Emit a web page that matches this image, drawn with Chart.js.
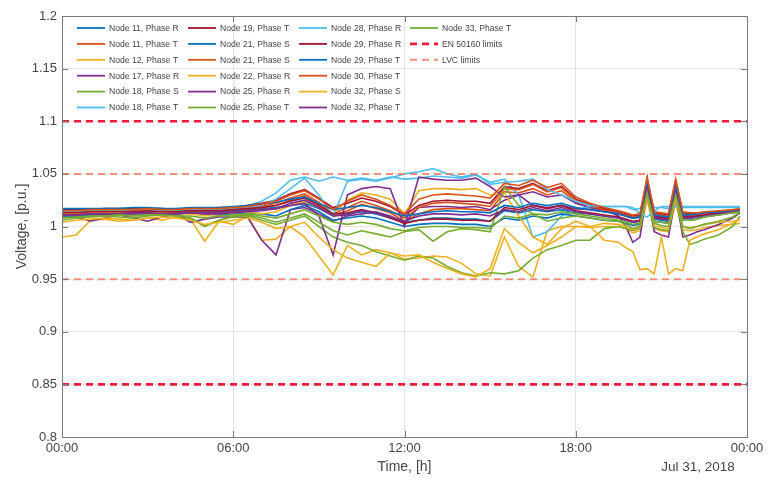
<!DOCTYPE html>
<html>
<head>
<meta charset="utf-8">
<script src="https://cdn.jsdelivr.net/npm/chart.js@4.4.0/dist/chart.umd.min.js"></script>
<style>
  body { margin: 0; background: #fff; }
</style>
</head>
<body>
<canvas id="voltChart" width="768" height="482"></canvas>
<script>
// --- Data (hours of Jul 31, 2018) ---
const times = [
  0, 0.5, 1, 1.5, 2, 2.5, 3, 3.5, 4, 4.5,
  5, 5.5, 6, 6.5, 7, 7.5, 8, 8.5, 9, 9.5,
  10, 10.5, 11, 11.5, 12, 12.5, 13, 13.5, 14, 14.5,
  15, 15.5, 16, 16.5, 17, 17.5, 18, 18.5, 19, 19.5,
  19.75, 20, 20.25, 20.5, 20.75, 21, 21.25, 21.5, 21.75, 22,
  22.25, 22.5, 23, 23.5, 23.75
];

const node11R = [
  1.012, 1.012, 1.013, 1.013, 1.013, 1.013, 1.014, 1.013, 1.013, 1.014,
  1.014, 1.014, 1.015, 1.016, 1.017, 1.018, 1.020, 1.022, 1.017, 1.010,
  1.012, 1.014, 1.012, 1.008, 1.004, 1.006, 1.008, 1.008, 1.007, 1.007,
  1.005, 1.015, 1.013, 1.016, 1.014, 1.016, 1.013, 1.012, 1.010, 1.008,
  1.006, 1.004, 1.005, 1.034, 1.007, 1.006, 1.005, 1.032, 1.008, 1.008,
  1.009, 1.010, 1.012, 1.014, 1.015
];
const node11T = [
  1.013, 1.013, 1.014, 1.014, 1.014, 1.014, 1.015, 1.014, 1.014, 1.015,
  1.015, 1.015, 1.016, 1.017, 1.018, 1.020, 1.025, 1.029, 1.021, 1.010,
  1.015, 1.021, 1.017, 1.013, 1.005, 1.012, 1.016, 1.017, 1.017, 1.016,
  1.015, 1.033, 1.032, 1.036, 1.030, 1.034, 1.023, 1.018, 1.015, 1.012,
  1.010, 1.008, 1.009, 1.040, 1.011, 1.010, 1.009, 1.038, 1.011, 1.010,
  1.010, 1.011, 1.012, 1.013, 1.014
];
const node12T = [
  0.990, 0.992, 1.006, 1.007, 1.005, 1.006, 1.008, 1.006, 1.009, 1.007,
  0.986, 1.005, 1.002, 1.010, 0.987, 0.988, 1.000, 0.990, 0.972, 0.954,
  0.982, 0.973, 0.978, 0.975, 0.969, 0.970, 0.972, 0.971, 0.965, 0.955,
  0.953, 0.990, 0.962, 0.952, 0.996, 1.000, 1.000, 0.999, 1.000, 1.000,
  0.998, 0.994, 0.996, 1.025, 0.998, 0.996, 0.995, 1.022, 0.997, 0.996,
  0.997, 0.999, 1.001, 1.002, 1.003
];
const node17R = [
  1.009, 1.009, 1.005, 1.008, 1.011, 1.008, 1.005, 1.009, 1.012, 1.004,
  1.007, 1.009, 1.009, 1.009, 0.987, 0.973, 1.016, 1.018, 1.012, 1.005,
  1.010, 1.012, 1.014, 1.010, 1.004, 1.018, 1.019, 1.019, 1.018, 1.019,
  1.016, 1.025, 1.030, 1.033, 1.028, 1.030, 1.022, 1.018, 1.016, 1.010,
  1.000, 0.985, 0.990, 1.033, 0.995, 0.992, 0.990, 1.030, 0.990, 0.992,
  0.995, 0.997, 1.002, 1.008, 1.013
];
const node18S = [
  1.009, 1.010, 1.010, 1.011, 1.011, 1.010, 1.011, 1.012, 1.011, 1.008,
  1.000, 1.006, 1.009, 1.010, 1.006, 1.002, 1.006, 1.010, 1.000, 0.990,
  0.985, 0.982, 0.976, 0.972, 0.968, 0.972, 0.970, 0.962, 0.956, 0.953,
  0.956, 0.955, 0.958, 0.970, 0.978, 0.982, 0.987, 0.987, 0.998, 1.000,
  0.998, 0.996, 0.998, 1.030, 0.999, 0.997, 0.996, 1.028, 0.995, 0.983,
  0.985, 0.988, 0.992, 1.000, 1.010
];
const node18T = [
  1.016, 1.016, 1.016, 1.017, 1.017, 1.017, 1.017, 1.017, 1.016, 1.017,
  1.017, 1.017, 1.018, 1.020, 1.024, 1.032, 1.044, 1.047, 1.043, 1.047,
  1.044, 1.046, 1.044, 1.047, 1.045, 1.046, 1.048, 1.047, 1.046, 1.049,
  1.042, 1.045, 1.030, 0.990, 0.995, 1.010, 1.016, 1.019, 1.019, 1.019,
  1.019, 1.016, 1.017, 1.030, 1.018, 1.018, 1.017, 1.032, 1.018, 1.018,
  1.018, 1.018, 1.018, 1.018, 1.018
];
const node19T = [
  1.016, 1.016, 1.016, 1.017, 1.017, 1.017, 1.017, 1.017, 1.016, 1.017,
  1.017, 1.018, 1.018, 1.020, 1.022, 1.025, 1.031, 1.035, 1.027, 1.018,
  1.022, 1.027, 1.024, 1.019, 1.011, 1.020, 1.024, 1.025, 1.024, 1.024,
  1.022, 1.038, 1.036, 1.041, 1.034, 1.038, 1.026, 1.021, 1.017, 1.014,
  1.012, 1.010, 1.011, 1.046, 1.013, 1.012, 1.011, 1.044, 1.013, 1.012,
  1.012, 1.013, 1.014, 1.015, 1.016
];
const node21Sa = [
  1.010, 1.010, 1.011, 1.011, 1.012, 1.012, 1.012, 1.012, 1.012, 1.013,
  1.012, 1.011, 1.012, 1.013, 1.012, 1.010, 1.016, 1.020, 1.014, 1.006,
  1.008, 1.010, 1.008, 1.004, 1.000, 1.002, 1.003, 1.003, 1.002, 1.002,
  1.000, 1.008, 1.006, 1.010, 1.008, 1.012, 1.010, 1.008, 1.006, 1.005,
  1.003, 1.001, 1.002, 1.030, 1.005, 1.004, 1.003, 1.028, 1.006, 1.006,
  1.007, 1.009, 1.011, 1.013, 1.014
];
const node21Sb = [
  1.014, 1.014, 1.015, 1.015, 1.015, 1.015, 1.016, 1.015, 1.015, 1.016,
  1.016, 1.016, 1.017, 1.018, 1.019, 1.022, 1.027, 1.031, 1.023, 1.012,
  1.018, 1.024, 1.020, 1.015, 1.008, 1.018, 1.022, 1.023, 1.022, 1.021,
  1.019, 1.036, 1.035, 1.040, 1.033, 1.037, 1.025, 1.020, 1.016, 1.013,
  1.011, 1.009, 1.010, 1.044, 1.012, 1.011, 1.010, 1.042, 1.012, 1.011,
  1.011, 1.012, 1.013, 1.014, 1.015
];
const node22R = [
  1.012, 1.012, 1.013, 1.013, 1.013, 1.012, 1.013, 1.013, 1.012, 1.012,
  1.010, 1.012, 1.013, 1.014, 1.012, 1.014, 1.020, 1.024, 1.018, 1.012,
  1.025, 1.032, 1.030, 1.026, 1.012, 1.034, 1.036, 1.036, 1.035, 1.036,
  1.030, 1.032, 1.010, 0.990, 0.983, 0.998, 1.005, 1.000, 1.003, 1.002,
  1.000, 0.997, 0.999, 1.030, 1.001, 0.999, 0.998, 1.028, 1.000, 0.999,
  1.000, 1.002, 1.004, 1.005, 1.006
];
const node25R = [
  1.011, 1.011, 1.012, 1.012, 1.012, 1.012, 1.013, 1.012, 1.012, 1.013,
  1.012, 1.012, 1.013, 1.014, 1.015, 1.017, 1.020, 1.022, 1.010, 0.973,
  1.030, 1.036, 1.038, 1.036, 1.000, 1.047, 1.045, 1.044, 1.044, 1.046,
  1.038, 1.028, 1.030, 1.020, 1.018, 1.020, 1.017, 1.016, 1.014, 1.012,
  1.010, 1.008, 1.009, 1.038, 1.010, 1.009, 1.008, 1.036, 1.010, 1.009,
  1.010, 1.011, 1.013, 1.014, 1.015
];
const node25T = [
  1.006, 1.008, 1.009, 1.010, 1.009, 1.008, 1.010, 1.011, 1.010, 1.008,
  1.001, 1.006, 1.010, 1.011, 1.008, 1.004, 1.008, 1.012, 1.004, 0.996,
  0.992, 0.996, 0.993, 0.990, 0.995, 0.997, 0.986, 0.995, 0.998, 0.997,
  0.995, 1.038, 1.020, 1.012, 1.005, 1.008, 1.010, 1.008, 1.006, 1.005,
  1.002, 0.998, 1.000, 1.036, 1.003, 1.001, 1.000, 1.032, 1.000, 0.998,
  1.000, 1.002, 1.005, 1.009, 1.014
];
const node28R = [
  1.014, 1.014, 1.015, 1.015, 1.015, 1.016, 1.016, 1.015, 1.015, 1.016,
  1.016, 1.016, 1.017, 1.018, 1.020, 1.026, 1.036, 1.046, 1.030, 1.010,
  1.043, 1.045, 1.043, 1.046, 1.050, 1.052, 1.055, 1.050, 1.047, 1.050,
  1.040, 1.042, 1.043, 1.045, 1.035, 1.030, 1.024, 1.020, 1.019, 1.019,
  1.019, 1.018, 1.012, 1.009, 1.015, 1.019, 1.019, 1.019, 1.019, 1.019,
  1.019, 1.019, 1.019, 1.019, 1.019
];
const node29R = [
  1.013, 1.013, 1.014, 1.014, 1.014, 1.014, 1.015, 1.014, 1.014, 1.015,
  1.015, 1.015, 1.016, 1.017, 1.018, 1.020, 1.024, 1.027, 1.020, 1.012,
  1.013, 1.016, 1.013, 1.008, 1.003, 1.006, 1.007, 1.007, 1.006, 1.006,
  1.005, 1.018, 1.016, 1.020, 1.017, 1.020, 1.015, 1.013, 1.011, 1.009,
  1.007, 1.005, 1.006, 1.038, 1.009, 1.008, 1.007, 1.036, 1.009, 1.009,
  1.010, 1.011, 1.013, 1.014, 1.015
];
const node29T = [
  1.017, 1.017, 1.017, 1.017, 1.017, 1.018, 1.018, 1.017, 1.017, 1.018,
  1.018, 1.018, 1.019, 1.020, 1.021, 1.023, 1.026, 1.028, 1.022, 1.016,
  1.018, 1.020, 1.018, 1.014, 1.010, 1.012, 1.014, 1.015, 1.014, 1.014,
  1.013, 1.020, 1.018, 1.022, 1.020, 1.022, 1.018, 1.016, 1.014, 1.012,
  1.010, 1.008, 1.009, 1.040, 1.011, 1.010, 1.009, 1.038, 1.011, 1.011,
  1.012, 1.013, 1.014, 1.015, 1.016
];
const node30T = [
  1.015, 1.015, 1.016, 1.016, 1.016, 1.016, 1.017, 1.016, 1.016, 1.017,
  1.017, 1.017, 1.018, 1.019, 1.021, 1.024, 1.030, 1.034, 1.026, 1.016,
  1.024, 1.030, 1.026, 1.020, 1.012, 1.026, 1.030, 1.031, 1.030, 1.029,
  1.027, 1.041, 1.039, 1.044, 1.037, 1.041, 1.028, 1.022, 1.018, 1.015,
  1.013, 1.011, 1.012, 1.047, 1.014, 1.013, 1.012, 1.045, 1.014, 1.013,
  1.013, 1.014, 1.015, 1.016, 1.017
];
const node32S = [
  1.004, 1.006, 1.007, 1.008, 1.007, 1.006, 1.008, 1.009, 1.008, 1.006,
  1.002, 1.004, 1.006, 1.008, 1.004, 0.998, 1.000, 1.004, 0.990, 0.978,
  0.970, 0.966, 0.962, 0.975, 0.972, 0.973, 0.966, 0.960, 0.955, 0.952,
  0.960, 0.998, 0.985, 0.975, 0.982, 0.990, 1.000, 1.000, 0.987, 0.985,
  0.980, 0.976, 0.959, 0.960, 0.955, 0.990, 0.955, 0.960, 0.958, 0.987,
  0.990, 0.993, 0.997, 1.003, 1.008
];
const node32T = [
  1.011, 1.011, 1.012, 1.012, 1.012, 1.013, 1.013, 1.012, 1.012, 1.013,
  1.013, 1.013, 1.014, 1.015, 1.016, 1.017, 1.022, 1.025, 1.018, 1.010,
  1.011, 1.015, 1.013, 1.009, 1.005, 1.010, 1.012, 1.012, 1.011, 1.012,
  1.010, 1.016, 1.014, 1.018, 1.015, 1.018, 1.014, 1.012, 1.010, 1.008,
  1.006, 1.004, 1.005, 1.036, 1.008, 1.007, 1.006, 1.034, 1.008, 1.008,
  1.009, 1.010, 1.012, 1.014, 1.015
];
const node33T = [
  1.008, 1.009, 1.010, 1.010, 1.011, 1.010, 1.011, 1.011, 1.010, 1.010,
  1.008, 1.010, 1.011, 1.012, 1.010, 1.008, 1.012, 1.016, 1.010, 1.004,
  1.002, 1.004, 1.002, 0.998, 0.996, 0.999, 1.000, 1.000, 0.999, 0.999,
  0.998, 1.010, 1.008, 1.012, 1.011, 1.014, 1.012, 1.010, 1.008, 1.006,
  1.004, 1.002, 1.003, 1.032, 1.005, 1.004, 1.003, 1.030, 1.006, 1.006,
  1.007, 1.009, 1.011, 1.013, 1.014
];

const seriesNames = [
  "Node 11, Phase R", "Node 11, Phase T", "Node 12, Phase T", "Node 17, Phase R",
  "Node 18, Phase S", "Node 18, Phase T", "Node 19, Phase T", "Node 21, Phase S",
  "Node 21, Phase S", "Node 22, Phase R", "Node 25, Phase R", "Node 25, Phase T",
  "Node 28, Phase R", "Node 29, Phase R", "Node 29, Phase T", "Node 30, Phase T",
  "Node 32, Phase S", "Node 32, Phase T", "Node 33, Phase T"
];
const seriesValues = [
  node11R, node11T, node12T, node17R, node18S, node18T, node19T, node21Sa,
  node21Sb, node22R, node25R, node25T, node28R, node29R, node29T, node30T,
  node32S, node32T, node33T
];

const enLimits = [1.1, 0.85];   // EN 50160
const lvcLimits = [1.05, 0.95]; // LVC
const dayTicks = [0, 6, 12, 18, 24];

// --- Style ---
const lineColors = ["#0072BD", "#D95319", "#EDB120", "#7E2F8E", "#77AC30", "#4DBEEE", "#A2142F"];
const enColor = "#ee1c3a";
const lvcColor = "rgba(240,125,100,0.85)";
const textColor = "#444444";
const fontName = "'Liberation Sans', Arial, sans-serif";

// --- Datasets ---
const datasets = seriesValues.map((vals, i) => ({
  label: seriesNames[i],
  data: times.map((t, k) => ({ x: t, y: vals[k] })),
  borderColor: lineColors[i % lineColors.length],
  borderWidth: 1.6,
  pointRadius: 0,
  tension: 0,
  order: 100 - i,
}));

function limitLine(label, value, color, width, dash) {
  return {
    label: label,
    data: [{ x: 0, y: value }, { x: 24, y: value }],
    borderColor: color,
    borderWidth: width,
    borderDash: dash,
    pointRadius: 0,
    order: 0,
  };
}
enLimits.forEach((v) => datasets.push(limitLine("EN 50160 limits", v, enColor, 2.6, [7, 5])));
lvcLimits.forEach((v) => datasets.push(limitLine("LVC limits", v, lvcColor, 2, [7, 5])));

// --- Legend / frame / labels drawn by hand (MATLAB look) ---
const legendEntries = seriesNames.map((name, i) => ({ name, ds: i }));
legendEntries.push({ name: "EN 50160 limits", ds: seriesValues.length });
legendEntries.push({ name: "LVC limits", ds: seriesValues.length + 2 });

const matlabLook = {
  id: "matlabLook",
  afterDraw(chart) {
    const c = chart.ctx;
    const a = chart.chartArea;
    const xs = chart.scales.x;
    const ys = chart.scales.y;
    c.save();

    // box + inward ticks
    c.strokeStyle = "#7a7a7a";
    c.lineWidth = 1;
    c.setLineDash([]);
    c.strokeRect(a.left + 0.5, a.top + 0.5, a.right - a.left, a.bottom - a.top);
    c.beginPath();
    dayTicks.forEach((t) => {
      const px = Math.round(xs.getPixelForValue(t)) + 0.5;
      c.moveTo(px, a.bottom); c.lineTo(px, a.bottom - 6);
      c.moveTo(px, a.top); c.lineTo(px, a.top + 6);
    });
    ys.ticks.forEach((tk) => {
      const py = Math.round(ys.getPixelForValue(tk.value)) + 0.5;
      c.moveTo(a.left, py); c.lineTo(a.left + 6, py);
      c.moveTo(a.right, py); c.lineTo(a.right - 6, py);
    });
    c.stroke();

    // legend, column by column
    c.font = "8.6px " + fontName;
    c.textBaseline = "middle";
    c.textAlign = "left";
    legendEntries.forEach((e, k) => {
      const col = Math.floor(k / 6);
      const row = k % 6;
      const x0 = 77 + col * 111;
      const y0 = 28 + row * 15.9;
      const ds = chart.data.datasets[e.ds];
      c.strokeStyle = ds.borderColor;
      c.lineWidth = ds.borderDash ? ds.borderWidth : 1.8;
      c.setLineDash(ds.borderDash || []);
      c.beginPath();
      c.moveTo(x0, y0);
      c.lineTo(x0 + 28, y0);
      c.stroke();
      c.fillStyle = textColor;
      c.fillText(e.name, x0 + 32, y0 + 0.5);
    });

    // axis titles and date
    c.setLineDash([]);
    c.fillStyle = textColor;
    c.font = "14px " + fontName;
    c.textAlign = "center";
    c.fillText("Time, [h]", (a.left + a.right) / 2, 467);
    c.font = "13.5px " + fontName;
    c.fillText("Jul 31, 2018", 698, 467);
    c.translate(22, (a.top + a.bottom) / 2);
    c.rotate(-Math.PI / 2);
    c.font = "14px " + fontName;
    c.fillText("Voltage, [p.u.]", 0, 0);
    c.restore();
  },
};

// --- Chart ---
const ctx = document.getElementById("voltChart").getContext("2d");
const voltChart = new Chart(ctx, {
  type: "line",
  data: { datasets },
  options: {
    responsive: false,
    animation: false,
    devicePixelRatio: 1,
    layout: { padding: { top: 16, right: 21, left: 0, bottom: 0 } },
    plugins: {
      legend: { display: false },
      tooltip: { enabled: false },
    },
    scales: {
      x: {
        type: "linear",
        min: 0,
        max: 24,
        afterFit: (s) => { s.height = 45; },
        afterBuildTicks: (s) => { s.ticks = dayTicks.map((v) => ({ value: v })); },
        ticks: {
          padding: 4,
          maxRotation: 0,
          color: textColor,
          font: { family: fontName, size: 13 },
          callback: (v) => String(v % 24).padStart(2, "0") + ":00",
        },
        grid: { color: "rgba(0,0,0,0.1)", drawTicks: false },
        border: { color: "#7a7a7a" },
      },
      y: {
        min: 0.8,
        max: 1.2,
        afterFit: (s) => { s.width = 62; },
        ticks: {
          stepSize: 0.05,
          padding: 5,
          color: textColor,
          font: { family: fontName, size: 13 },
          callback: (v) => String(Number(v.toFixed(2))),
        },
        grid: { color: "rgba(0,0,0,0.1)", drawTicks: false },
        border: { color: "#7a7a7a" },
      },
    },
  },
  plugins: [matlabLook],
});
</script>
</body>
</html>
